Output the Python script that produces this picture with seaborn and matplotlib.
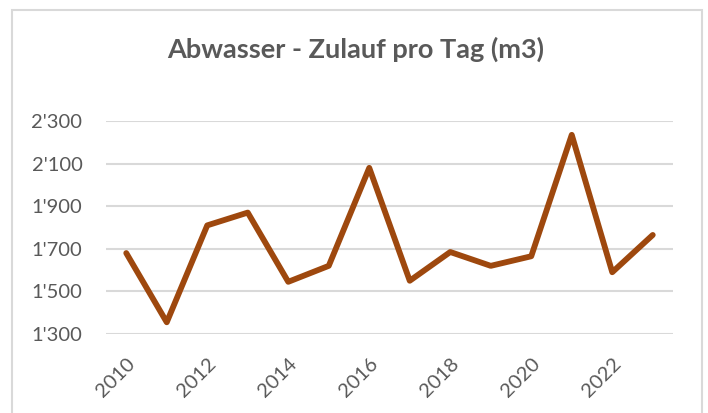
import matplotlib
matplotlib.use("Agg")
import matplotlib.pyplot as plt
import matplotlib.ticker as mticker
from matplotlib.patches import Rectangle
import seaborn as sns
import pandas as pd

years = [2010, 2011, 2012, 2013, 2014, 2015, 2016, 2017, 2018, 2019, 2020, 2021, 2022, 2023]
inflow = [1680, 1355, 1810, 1870, 1545, 1620, 2080, 1550, 1685, 1620, 1665, 2235, 1590, 1765]
xticks = [2010, 2012, 2014, 2016, 2018, 2020, 2022]
yticks = [1300, 1500, 1700, 1900, 2100, 2300]
title = "Abwasser - Zulauf pro Tag (m3)"

df = pd.DataFrame({"Jahr": years, "Zulauf": inflow})

sns.set_style("white")
plt.rcParams["font.family"] = ["Lato", "DejaVu Sans"]
grey = "#595959"

fig = plt.figure(figsize=(7.08, 4.13), dpi=100)
fig.patches.append(Rectangle((12 / 708, -0.1), 690 / 708, 1.1 - 10 / 413,
                             transform=fig.transFigure, fill=False,
                             edgecolor="#D9D9D9", linewidth=1.5))
ax = fig.add_axes([106 / 708, 1 - 334 / 413, 567 / 708, 213 / 413])

sns.lineplot(data=df, x="Jahr", y="Zulauf", ax=ax, color="#9E480E",
             linewidth=4.2, solid_joinstyle="round", solid_capstyle="round")

ax.set_xlim(2009.5, 2023.5)
ax.set_ylim(1300, 2300)
ax.set_xticks(xticks)
ax.set_yticks(yticks)
ax.yaxis.set_major_formatter(mticker.FuncFormatter(lambda v, p: f"{v:,.0f}".replace(",", "'")))
ax.grid(axis="y", color="#D9D9D9", linewidth=1.5)
ax.set_axisbelow(True)
for s in ax.spines.values():
    s.set_visible(False)
ax.set_xlabel("")
ax.set_ylabel("")
ax.tick_params(axis="y", length=0, pad=17, labelsize=14.5, labelcolor=grey)
ax.tick_params(axis="x", length=0, pad=15, labelsize=14.5, labelcolor=grey)
for lab in ax.get_xticklabels():
    lab.set_rotation(45)
    lab.set_ha("right")
    lab.set_rotation_mode("anchor")

fig.text(356 / 708, 1 - 58 / 413, title, ha="center", va="baseline",
         fontsize=19.5, fontweight="bold", color=grey)

fig.savefig("out.png", dpi=100)
